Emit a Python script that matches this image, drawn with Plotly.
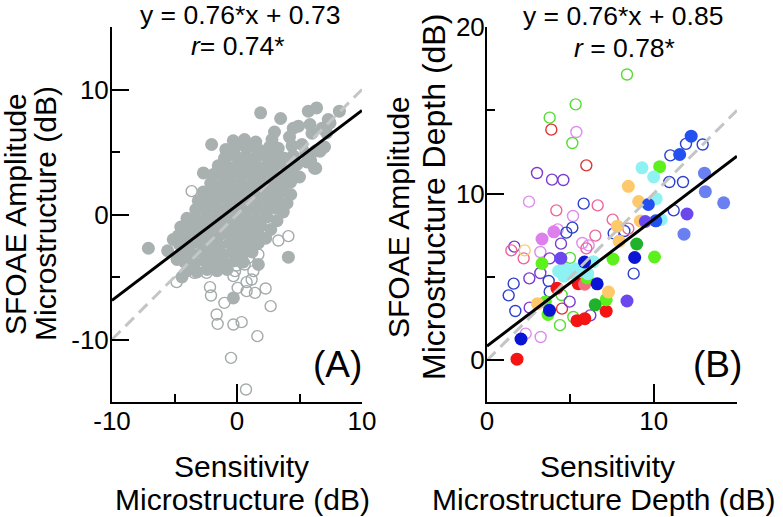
import plotly.graph_objects as go

FONT = "Liberation Sans, Arial, Helvetica, sans-serif"

# ---------------- Panel A: Sensitivity vs SFOAE microstructure (dB) ----------------
a_fill_x = [
    -0.3, 0.6, 1.5, 2.8,
    -0.9, -0.1, 0.8, 1.7, 2.6, 3.3, 4.4, 5.2,
    -1.0, -0.2, 0.6, 1.4, 2.2, 3.0, 3.8, 4.5, 5.5, 6.3, 7.0,
    -1.5, -0.7, 0.1, 0.9, 1.7, 2.5, 3.3, 4.1, 4.8, 5.6, 6.2,
    -1.9, -1.1, -0.3, 0.5, 1.3, 2.1, 2.9, 3.7, 4.5, 5.0,
    -2.1, -1.3, -0.5, 0.3, 1.1, 1.9, 2.7, 3.5, 4.3,
    -2.7, -1.9, -1.1, -0.3, 0.5, 1.3, 2.1, 2.9, 3.7, 4.3,
    -3.1, -2.3, -1.5, -0.7, 0.1, 0.9, 1.7, 2.5, 3.3, 4.0,
    -3.3, -2.5, -1.7, -0.9, -0.1, 0.7, 1.5, 2.3, 3.1, 3.7,
    -4.0, -3.2, -2.4, -1.6, -0.8, 0.0, 0.8, 1.6, 2.4, 3.2,
    -4.5, -3.7, -2.9, -2.1, -1.3, -0.5, 0.3, 1.1, 1.9, 2.7,
    -4.7, -3.9, -3.1, -2.3, -1.5, -0.7, 0.1, 0.9, 1.7, 2.3,
    -4.6, -3.8, -3.0, -2.2, -1.4, -0.6, 0.2, 1.0, 1.7,
    -4.3, -3.5, -2.7, -1.9, -1.1, -0.3, 0.5, 1.2,
    -4.2, -3.4, -2.6, -1.8, -1.0, -0.2, 0.5,
    -4.0, -3.2, -2.4, -1.6, -0.8,
    -2.03, -2.69, -7.09, -5.55, -5.1, 4.11, 1.71, -0.29, 1.89, 3.49,
    5.71, 6.37, 8.19, 4.91, 5.84, 7.44, 7.17, 6.64, 4.5, 6.0,
    6.8, 7.3, 6.3, 5.9, -4.8, -4.4, 4.2, 3.0,
]
a_fill_y = [
    5.9, 6.0, 5.8, 6.0,
    5.2, 5.4, 5.3, 5.2, 5.4, 5.3, 5.5, 5.6,
    4.5, 4.7, 4.6, 4.5, 4.7, 4.6, 4.5, 4.7, 4.9, 5.1, 5.4,
    3.9, 3.8, 4.0, 3.9, 3.8, 4.0, 3.9, 3.8, 4.0, 4.2, 3.7,
    3.2, 3.1, 3.3, 3.2, 3.1, 3.3, 3.2, 3.1, 3.3, 3.0,
    2.5, 2.4, 2.6, 2.5, 2.4, 2.6, 2.5, 2.4, 2.6,
    1.8, 1.7, 1.9, 1.8, 1.7, 1.9, 1.8, 1.7, 1.9, 1.6,
    1.1, 1.0, 1.2, 1.1, 1.0, 1.2, 1.1, 1.0, 1.2, 0.9,
    0.4, 0.3, 0.5, 0.4, 0.3, 0.5, 0.4, 0.3, 0.5, 0.2,
    -0.3, -0.4, -0.2, -0.3, -0.4, -0.2, -0.3, -0.4, -0.2, -0.5,
    -1.0, -1.1, -0.9, -1.0, -1.1, -0.9, -1.0, -1.1, -0.9, -1.2,
    -1.7, -1.8, -1.6, -1.7, -1.8, -1.6, -1.7, -1.8, -1.6, -1.9,
    -2.4, -2.5, -2.3, -2.4, -2.5, -2.3, -2.4, -2.5, -2.3,
    -3.1, -3.2, -3.0, -3.1, -3.2, -3.0, -3.1, -3.0,
    -3.8, -3.9, -3.7, -3.8, -3.9, -3.7, -3.8,
    -4.5, -4.6, -4.4, -4.5, -4.4,
    5.6, 3.33, -2.7, -2.9, -2.0, -3.41, -4.0, -6.67, 8.13, 7.68,
    8.27, 8.53, 8.27, 7.07, 7.2, 7.33, 6.53, 5.07, 6.9, 6.5,
    6.9, 7.6, 3.7, 4.3, -3.6, -5.0, 6.2, 6.6,
]
a_open_x = [
    0.72, -0.48, 1.63, -0.29, 0.37, -1.55, -1.63, -1.01, -2.08, -2.16,
    2.69, 0.77, 1.44, 2.29, 0.05, 0.77, 1.17, -0.29, -0.16, -0.77,
    -0.03, 0.61, -1.36, 1.31, 3.31, 4.11, -4.83, -3.41, -2.43, -2.96,
    -3.63, -0.83, 0.24, -0.56, 0.91, 1.71,
]
a_open_y = [
    -14.0, -11.47, -9.73, -8.8, -8.61, -8.75, -8.0, -7.07, -6.48, -5.81,
    -7.33, -6.13, -6.27, -5.92, -5.87, -5.41, -5.2, -4.93, -4.53, -4.27,
    -4.08, -4.0, -4.0, -4.53, -2.08, -1.73, -5.41, -4.67, -4.67, 1.07,
    1.87, 4.93, -3.41, -3.2, -3.47, -3.2,
]
a_fit_x = [-10, 10]
a_fit_y = [-6.87, 8.33]
a_unity_x = [-10, 10]
a_unity_y = [-10, 10]

# ---------------- Panel B: microstructure depth (dB), one colour per group ----------------
b_green_open_x = [8.4, 5.32, 3.76, 5.12, 4.38, 5.18, 4.98, 4.48]
b_green_open_y = [17.15, 15.36, 14.56, 13.04, 2.11, 2.6, 6.15, 3.92]
b_red_open_x = [3.86, 5.96, 4.5]
b_red_open_y = [13.84, 11.7, 3.1]
b_violet_open_x = [5.36, 2.52, 5.16, 4.24, 5.72, 3.2, 2.32, 3.22, 6.1]
b_violet_open_y = [13.7, 9.52, 8.66, 7.86, 7.04, 6.5, 1.6, 1.4, 6.9]
b_purple_open_x = [3.0, 3.9, 4.58, 1.64, 4.44, 3.76, 3.2, 2.54, 2.56, 4.96, 6.2]
b_purple_open_y = [11.24, 10.84, 10.82, 6.82, 7.0, 6.12, 5.24, 4.92, 3.16, 3.52, 2.7]
b_blue_open_x = [5.8, 5.12, 4.76, 7.6, 1.6, 1.3, 1.7, 3.76, 3.7, 8.8,
                 11.0, 11.94, 12.94, 10.94, 11.76, 11.2, 8.24]
b_blue_open_y = [9.4, 7.96, 7.66, 7.62, 4.6, 3.9, 2.96, 4.12, 4.76, 5.2,
                 12.3, 12.99, 12.95, 10.7, 10.7, 9.0, 7.76]
b_pink_open_x = [6.64, 4.16, 7.54, 8.48, 6.5, 5.96, 1.46, 2.2]
b_pink_open_y = [9.3, 9.0, 8.44, 7.9, 7.48, 6.72, 6.6, 6.12]
b_orange_open_x = [2.26]
b_orange_open_y = [6.6]

b_red_x = [1.8, 4.2, 5.47, 5.4, 5.87, 7.15]
b_red_y = [0.07, 4.33, 4.6, 2.38, 2.5, 2.95]
b_salmon_x = [5.86]
b_salmon_y = [4.57]
b_green_x = [3.3, 3.5, 3.66, 7.15, 7.56, 10.05, 10.36, 6.0]
b_green_y = [5.81, 3.5, 2.75, 3.64, 6.08, 6.2, 11.62, 4.95]
b_darkgreen_x = [6.49, 8.98]
b_darkgreen_y = [3.33, 6.98]
b_orange_x = [3.03, 7.29, 7.82, 7.93, 8.48, 9.1, 9.2]
b_orange_y = [3.4, 4.1, 8.05, 7.15, 10.44, 9.53, 8.36]
b_cyan_x = [9.3, 10.0, 10.15, 10.45, 4.3, 4.75, 5.1, 5.6, 6.05, 6.38, 4.6, 5.3]
b_cyan_y = [11.55, 11.0, 9.7, 8.45, 5.35, 5.45, 5.25, 5.35, 5.2, 5.92, 5.05, 5.5]
b_darkblue_x = [2.04, 3.75, 5.85, 6.61, 8.86]
b_darkblue_y = [1.28, 3.0, 5.9, 4.59, 6.17]
b_royal_x = [12.25, 11.56, 9.68, 10.13]
b_royal_y = [13.45, 12.35, 9.35, 8.37]
b_periwinkle_x = [13.05, 13.1, 14.2, 11.82]
b_periwinkle_y = [11.23, 10.12, 9.45, 7.57]
b_purple_x = [12.0, 9.5, 8.4, 4.43]
b_purple_y = [8.78, 8.33, 3.56, 6.12]
b_violet_x = [3.3, 4.01]
b_violet_y = [7.28, 7.71]

b_fit_x = [0, 15]
b_fit_y = [0.85, 12.25]
b_unity_x = [0, 15]
b_unity_y = [0, 15]

fig = go.Figure()


def pts(x, y, color, filled, xa="x", ya="y", size=13):
    if filled:
        marker = dict(size=size, color=color, line=dict(width=0))
    else:
        marker = dict(size=size - 2, color="rgba(0,0,0,0)",
                      line=dict(width=1.4, color=color))
    fig.add_trace(go.Scatter(x=x, y=y, mode="markers", marker=marker,
                             xaxis=xa, yaxis=ya, hoverinfo="skip"))


def line(x, y, color, width, dash, xa="x", ya="y"):
    fig.add_trace(go.Scatter(x=x, y=y, mode="lines",
                             line=dict(color=color, width=width, dash=dash),
                             xaxis=xa, yaxis=ya, hoverinfo="skip"))


GREY = "#a9b1b0"
pts(a_open_x, a_open_y, "#a3abaa", False)
pts(a_fill_x, a_fill_y, GREY, True)
line(a_unity_x, a_unity_y, "#c4c6c6", 3, "12px,7px")
line(a_fit_x, a_fit_y, "black", 3, "solid")

# open symbols first, then filled
pts(b_green_open_x, b_green_open_y, "#55dd33", False, "x2", "y2")
pts(b_red_open_x, b_red_open_y, "#dd3333", False, "x2", "y2")
pts(b_violet_open_x, b_violet_open_y, "#de8cee", False, "x2", "y2")
pts(b_purple_open_x, b_purple_open_y, "#7a3ad0", False, "x2", "y2")
pts(b_blue_open_x, b_blue_open_y, "#2b3fd0", False, "x2", "y2")
pts(b_pink_open_x, b_pink_open_y, "#ee6699", False, "x2", "y2")
pts(b_orange_open_x, b_orange_open_y, "#ffc878", False, "x2", "y2")

pts(b_red_x, b_red_y, "#f41414", True, "x2", "y2")
pts(b_salmon_x, b_salmon_y, "#f06e80", True, "x2", "y2")
pts(b_green_x, b_green_y, "#5cf01c", True, "x2", "y2")
pts(b_darkgreen_x, b_darkgreen_y, "#20b22a", True, "x2", "y2")
pts(b_orange_x, b_orange_y, "#fdc96a", True, "x2", "y2")
pts(b_cyan_x, b_cyan_y, "#8ef2f2", True, "x2", "y2")
pts(b_darkblue_x, b_darkblue_y, "#0a14d4", True, "x2", "y2")
pts(b_royal_x, b_royal_y, "#2350f0", True, "x2", "y2")
pts(b_periwinkle_x, b_periwinkle_y, "#6a80f0", True, "x2", "y2")
pts(b_purple_x, b_purple_y, "#6a48ee", True, "x2", "y2")
pts(b_violet_x, b_violet_y, "#dd80ee", True, "x2", "y2")
line(b_unity_x, b_unity_y, "#c4c6c6", 3, "12px,7px", "x2", "y2")
line(b_fit_x, b_fit_y, "black", 3, "solid", "x2", "y2")

axis_common = dict(
    showline=True, linecolor="black", linewidth=2, mirror=False,
    ticks="inside", tickcolor="black", tickwidth=2,
    showgrid=False, zeroline=False,
    tickfont=dict(family=FONT, size=26, color="black"),
)
minor_ticks = dict(dtick=5, tick0=0, ticklen=8, ticks="inside",
                   tickcolor="black", tickwidth=2)

fig.update_layout(
    width=783, height=517,
    margin=dict(l=112, r=46, t=27, b=115),
    paper_bgcolor="white", plot_bgcolor="white",
    showlegend=False,
    xaxis=dict(domain=[0, 0.4], range=[-10, 10], tickvals=[-10, 0, 10],
               ticktext=["-10", "0", "10"], ticklen=18, ticklabelstandoff=-5,
               minor=minor_ticks, anchor="y", **axis_common),
    yaxis=dict(domain=[0, 1], range=[-15, 15], tickvals=[-10, 0, 10],
               ticktext=["-10", "0", "10"], ticklen=17, ticklabelstandoff=-4,
               minor=minor_ticks, anchor="x", **axis_common),
    xaxis2=dict(domain=[0.6, 1], range=[0, 15], tickvals=[0, 10], ticklen=18,
                ticklabelstandoff=-5, minor=minor_ticks, anchor="y2", **axis_common),
    yaxis2=dict(domain=[0, 1], range=[-2.5, 20], tickvals=[0, 10, 20], ticklen=17,
                ticklabelstandoff=-5, minor=minor_ticks, anchor="x2", **axis_common),
)


def ann(text, x, y, size, angle=0):
    fig.add_annotation(text=text, x=x, y=y, xref="paper", yref="paper",
                       showarrow=False, xanchor="center", yanchor="middle",
                       textangle=angle, borderpad=0,
                       font=dict(family=FONT, size=size, color="black"))


ann("y = 0.76*x + 0.73", 0.2048, 1.032, 26.5)
ann("<i>r</i>= 0.74*", 0.2016, 0.950, 26.5)
ann("y = 0.76*x + 0.85", 0.8176, 1.030, 26.5)
ann("<i>r</i> = 0.78*", 0.8192, 0.9453, 26.5)
ann("(A)", 0.36, 0.1013, 37)
ann("(B)", 0.968, 0.0987, 37)
ann("Sensitivity", 0.2064, -0.1733, 30)
ann("Microstructure (dB)", 0.208, -0.2613, 30)
ann("Sensitivity", 0.792, -0.1733, 30)
ann("Microstructure Depth (dB)", 0.7856, -0.2613, 30)
ann("SFOAE Amplitude", -0.1552, 0.5013, 30, -90)
ann("Microstructure (dB)", -0.1072, 0.5013, 30, -90)
ann("SFOAE Amplitude", 0.4576, 0.4933, 30, -90)
ann("Microstructure Depth (dB)", 0.5152, 0.5467, 32, -90)

fig.write_html("out.html",
               config={"displayModeBar": False, "staticPlot": True},
               post_script="document.body.style.margin='0px';"
                           "document.body.style.overflow='hidden';")
